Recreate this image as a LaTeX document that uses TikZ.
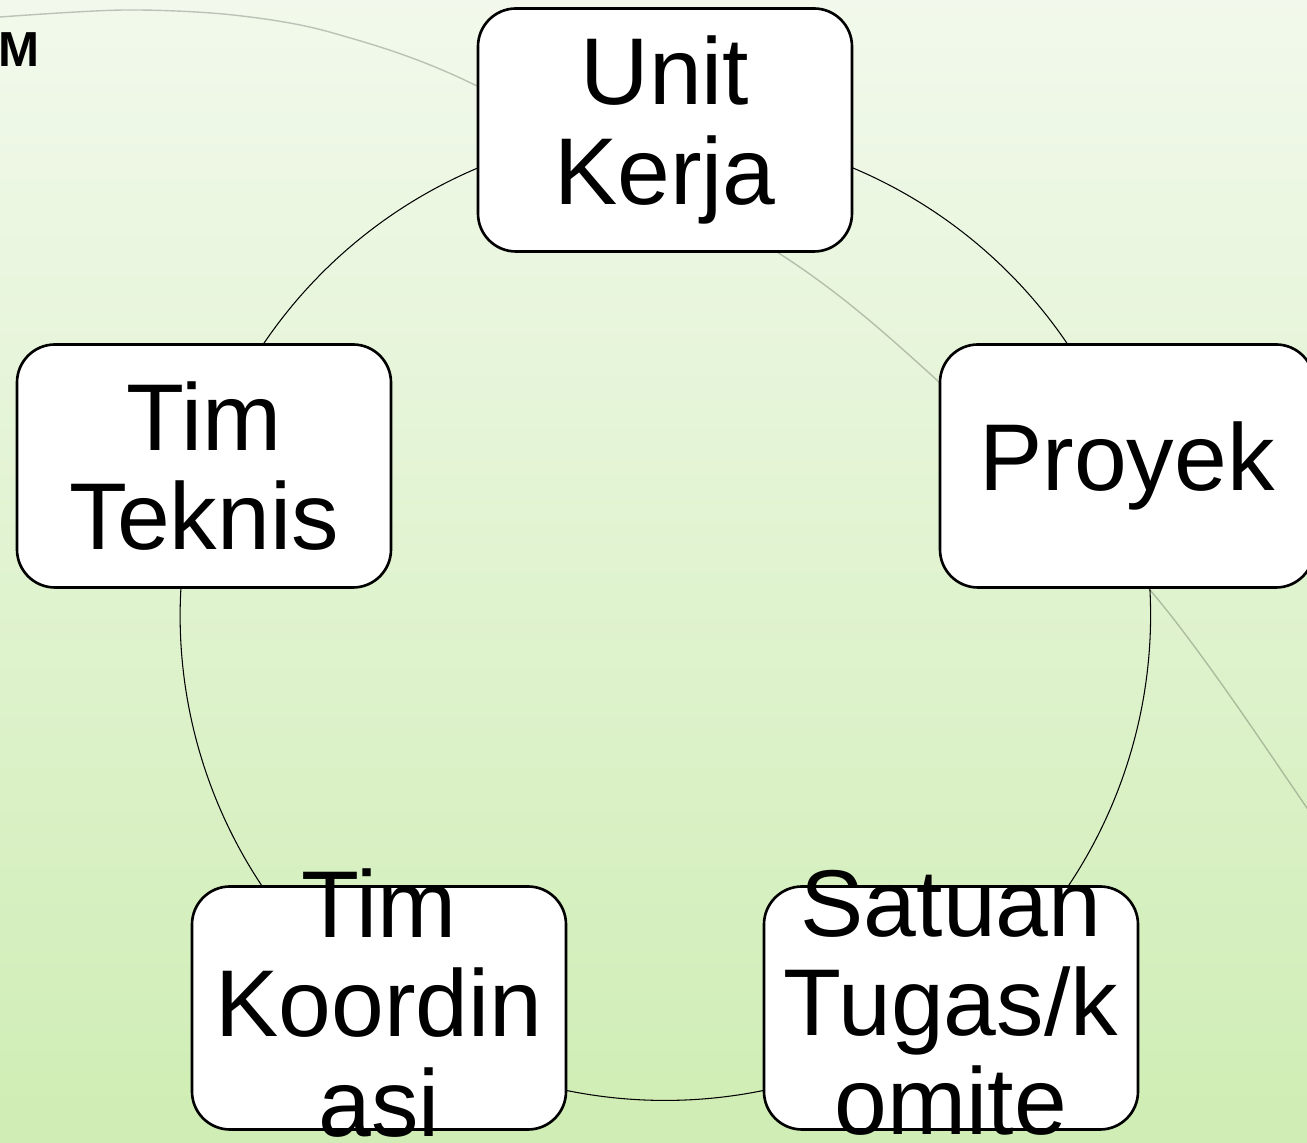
\documentclass[tikz,border=0pt]{standalone}
\usepackage{fontspec}
\setmainfont{Liberation Sans}
\usepackage{tikz}
\usepackage{xcolor}
\usetikzlibrary{backgrounds}
\definecolor{bgtop}{HTML}{F2F9EC}
\definecolor{bgbottom}{HTML}{CFEDB4}

\begin{document}
\begin{tikzpicture}
	\useasboundingbox (0,0) rectangle (26.14,22.86);
	\tikzstyle{cyclebox}=[draw=black,line width=1.5pt,fill=white,rounded corners=0.76cm,minimum width=7.48cm,minimum height=4.86cm,inner sep=0pt]
	\tikzstyle{cycletext}=[align=center,inner sep=0pt,font=\fontsize{54}{56.5}\selectfont]
	\tikzstyle{ringarc}=[bend right=36,looseness=0.94]
	\node[cyclebox] (unit) at (13.30,20.26) {};
	\node[cyclebox] (proyek) at (22.54,13.54) {};
	\node[cyclebox] (teknis) at (4.08,13.54) {};
	\node[cyclebox] (koord) at (7.58,2.70) {};
	\node[cyclebox] (satuan) at (19.02,2.70) {};
	\node[cycletext] (unit-text) at (unit) {Unit\\Kerja};
	\node[cycletext] (proyek-text) at (proyek) {Proyek};
	\node[cycletext] (teknis-text) at (teknis) {Tim\\Teknis};
	\node[cycletext] (koord-text) at ([yshift=0.1cm]koord) {Tim\\Koordin\\asi};
	\node[cycletext] (satuan-text) at ([yshift=0.1cm]satuan) {Satuan\\Tugas/k\\omite};
	\node[inner sep=0pt,anchor=base west,font=\fontsize{28}{34}\selectfont\bfseries] (title) at (-0.03,21.52) {M};
	\begin{scope}[on background layer]
		\shade[top color=bgtop,bottom color=bgbottom] (0,0) rectangle (26.14,22.86);
		% faint arc behind the cycle
		\draw[black,opacity=0.22,line width=0.8pt] plot[smooth] coordinates {(-0.5,22.45) (0,22.52) (2.5,22.66) (4.66,22.56) (6.66,22.20) (9.54,21.14) (15.54,17.82) (18.78,15.22) (23.0,11.06) (26.14,6.70) (26.6,5.9)};
		\draw[line width=0.6pt] (unit.center) to[ringarc] (teknis.center);
		\draw[line width=0.6pt] (teknis.center) to[ringarc] (koord.center);
		\draw[line width=0.6pt] (koord.center) to[ringarc] (satuan.center);
		\draw[line width=0.6pt] (satuan.center) to[ringarc] (proyek.center);
		\draw[line width=0.6pt] (proyek.center) to[ringarc] (unit.center);
	\end{scope}
\end{tikzpicture}
\end{document}
